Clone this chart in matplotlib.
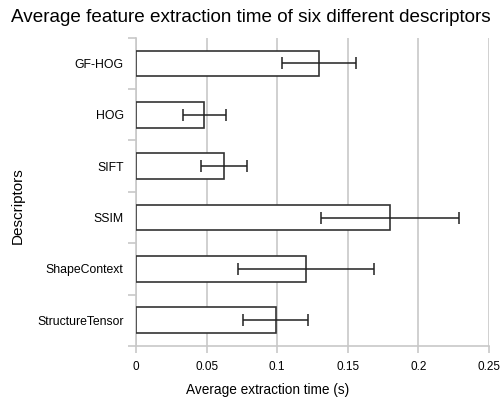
import matplotlib

matplotlib.use("Agg")
import matplotlib.pyplot as plt
import numpy as np

plt.rcParams["font.family"] = ["Liberation Sans", "DejaVu Sans"]

descriptors = ["GF-HOG", "HOG", "SIFT", "SSIM", "ShapeContext", "StructureTensor"]
mean_time = [0.1295, 0.0484, 0.0625, 0.1797, 0.1204, 0.0989]
err_time = [0.026, 0.0154, 0.0163, 0.049, 0.0483, 0.0229]
x_ticks = [0, 0.05, 0.1, 0.15, 0.2, 0.25]
x_ticklabels = ["0", "0.05", "0.1", "0.15", "0.2", "0.25"]

fig = plt.figure(figsize=(5.02, 3.98), dpi=100)
ax = fig.add_axes([0.271, 0.131, 0.703, 0.774])

y = np.arange(len(descriptors))
ax.barh(y, mean_time, height=0.5, color="white", edgecolor="#333333", linewidth=1.2, zorder=3)
ax.errorbar(mean_time, y, xerr=err_time, fmt="none", ecolor="#222222",
            elinewidth=1.1, capsize=4, capthick=1.1, zorder=4)

ax.set_xlim(0, 0.25)
ax.set_ylim(len(descriptors) - 0.5, -0.5)
ax.set_xticks(x_ticks)
ax.set_xticklabels(x_ticklabels, fontsize=8.5)
ax.set_yticks(y)
ax.set_yticklabels(descriptors, fontsize=8.8)
ax.set_yticks(np.arange(len(descriptors) + 1) - 0.5, minor=True)
ax.tick_params(axis="y", which="major", length=0, pad=9)
ax.tick_params(axis="y", which="minor", length=6, color="#c8c8c8", width=1.2)
ax.tick_params(axis="x", length=5, color="#c8c8c8", width=1.2, pad=6)

ax.grid(axis="x", color="#c8c8c8", linewidth=1.2, zorder=0)
for side in ["top", "right"]:
    ax.spines[side].set_visible(False)
for side in ["left", "bottom"]:
    ax.spines[side].set_color("#c8c8c8")
    ax.spines[side].set_linewidth(1.2)

ax.set_xlabel("Average extraction time (s)", fontsize=9.8)
ax.xaxis.set_label_coords(0.374, -0.122)
ax.set_ylabel("Descriptors", fontsize=11)
ax.yaxis.set_label_coords(-0.315, 0.455)
fig.text(0.5, 0.955, "Average feature extraction time of six different descriptors",
         ha="center", va="center", fontsize=13.6)

fig.savefig("out.png", dpi=100)
